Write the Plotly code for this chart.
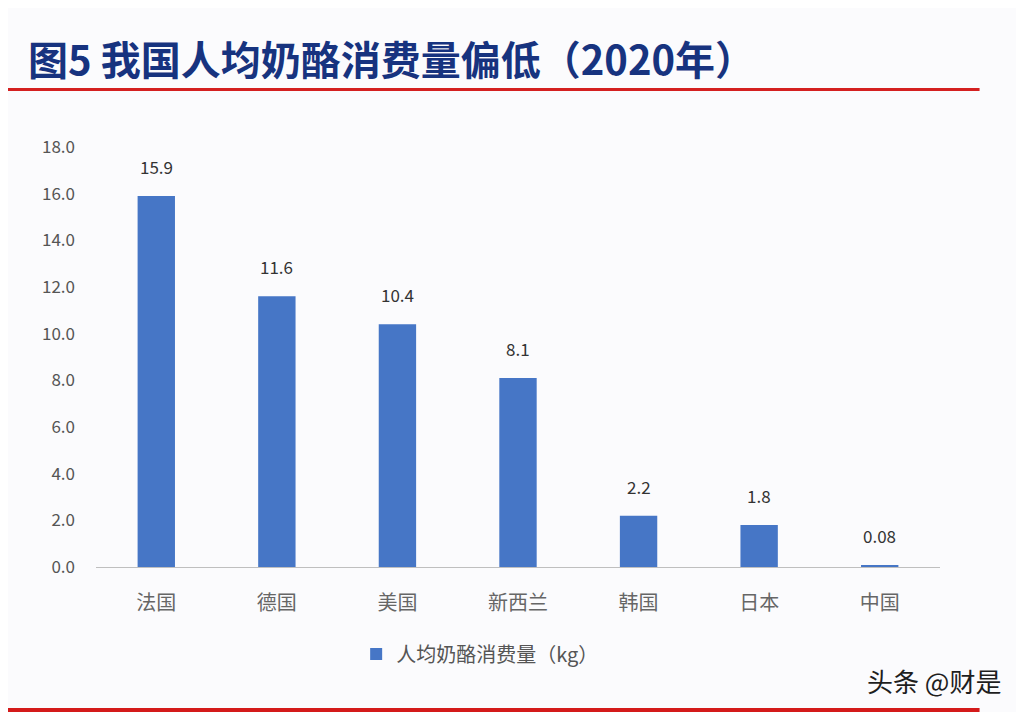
import plotly.graph_objects as go

categories = ["法国", "德国", "美国", "新西兰", "韩国", "日本", "中国"]
values = [15.9, 11.6, 10.4, 8.1, 2.2, 1.8, 0.08]
value_labels = ["15.9", "11.6", "10.4", "8.1", "2.2", "1.8", "0.08"]
series_name = "人均奶酪消费量（kg）"
title_text = "图5 我国人均奶酪消费量偏低（2020年）"
watermark = "头条 @财是"

OFF = 8  # page body margin
W, H = 1024 - OFF, 712 - OFF
L, R = 95.6 - OFF, 940.4 - OFF
T, B = 147 - OFF, 567 - OFF

def px(x):
    return (x - OFF - L) / (R - L)

def py(y):
    return (B - (y - OFF)) / (B - T)

font_cjk = "Noto Sans CJK SC, Noto Sans, sans-serif"

fig = go.Figure()
fig.add_trace(go.Bar(
    x=categories, y=values, name=series_name,
    marker=dict(color="#4676c6", line=dict(width=0)),
    width=0.31,
))

for c, v, t in zip(categories, values, value_labels):
    fig.add_annotation(x=c, y=v, text=t, showarrow=False, yanchor="bottom",
                       yshift=15, font=dict(size=17, color="#333333", family=font_cjk))

fig.add_annotation(xref="paper", yref="paper", x=px(26), y=py(58), xanchor="left",
                   yanchor="middle", text="<b>" + title_text + "</b>", showarrow=False,
                   font=dict(size=40, color="#17337f", family=font_cjk))
fig.add_annotation(xref="paper", yref="paper", x=px(865), y=py(680), xanchor="left",
                   yanchor="middle", text=watermark, showarrow=False,
                   font=dict(size=26, color="#1e1e1e", family=font_cjk))

fig.add_shape(type="line", xref="paper", yref="paper", x0=px(0), x1=px(980),
              y0=py(89.5), y1=py(89.5), line=dict(color="#d42020", width=3))
fig.add_shape(type="line", xref="paper", yref="paper", x0=px(0), x1=px(980),
              y0=py(710), y1=py(710), line=dict(color="#d41a1a", width=4))

fig.update_layout(
    width=W, height=H,
    margin=dict(l=L, r=W - R, t=T, b=H - B, pad=0),
    paper_bgcolor="#fbfbfd", plot_bgcolor="#fbfbfd",
    showlegend=True,
    legend=dict(orientation="h", x=px(356), y=py(654), xanchor="left", yanchor="middle",
                font=dict(size=20, color="#555555", family=font_cjk),
                bgcolor="rgba(0,0,0,0)", itemwidth=30),
    bargap=0.69,
    font=dict(family=font_cjk),
)
fig.update_xaxes(showline=True, linecolor="#bfbfbf", linewidth=1, ticks="",
                 tickfont=dict(size=20, color="#666666", family=font_cjk),
                 ticklabelstandoff=18, showgrid=False)
fig.update_yaxes(range=[0, 18], dtick=2, tickformat=".1f", showgrid=False,
                 zeroline=False, showline=False, ticks="",
                 tickfont=dict(size=17, color="#555555", family=font_cjk),
                 ticklabelstandoff=20)

fig.write_html("out.html")
